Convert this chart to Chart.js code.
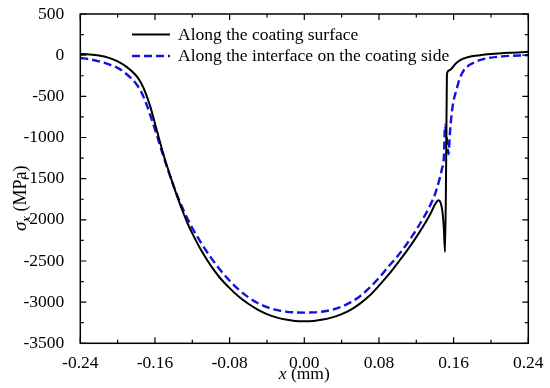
<!DOCTYPE html>
<html>
<head>
<meta charset="utf-8">
<script src="https://cdn.jsdelivr.net/npm/chart.js@4"></script>
<style>
  body { margin: 0; background: #fff; }
  #stressChart { display: block; }
</style>
</head>
<body>
<canvas id="stressChart" width="550" height="388"></canvas>
<script>
// Along the coating surface (solid black)
const surfaceX = [-0.24, -0.23, -0.22, -0.21, -0.2, -0.19, -0.18, -0.175, -0.17, -0.165, -0.16, -0.155, -0.15, -0.145, -0.14, -0.135, -0.13, -0.125, -0.12, -0.11, -0.1, -0.09, -0.08, -0.07, -0.06, -0.05, -0.04, -0.03, -0.02, -0.01, 0,
    0.01, 0.02, 0.03, 0.04, 0.05, 0.06, 0.07, 0.08, 0.09, 0.1, 0.11, 0.12, 0.13, 0.135, 0.14, 0.1437, 0.146, 0.148, 0.1495, 0.1508, 0.152, 0.1528, 0.155, 0.158, 0.162, 0.167, 0.175, 0.188, 0.2, 0.22, 0.24];
const surfaceY = [15, 8, -5, -30, -75, -145, -250, -335, -460, -625, -830, -1040, -1240, -1420, -1590, -1755, -1905, -2045, -2165, -2380, -2560, -2710, -2830, -2935, -3020, -3090, -3145, -3185, -3212, -3228, -3232,
    -3228, -3212, -3185, -3145, -3090, -3015, -2920, -2800, -2670, -2525, -2375, -2210, -2030, -1930, -1815, -1762, -1790, -1900, -2100, -2390, -1300, -230, -185, -160, -105, -60, -25, 0, 15, 30, 40];

// Along the interface on the coating side (dashed blue)
const interfaceX = [-0.24, -0.23, -0.22, -0.21, -0.2, -0.19, -0.18, -0.175, -0.17, -0.165, -0.16, -0.155, -0.15, -0.145, -0.14, -0.135, -0.13, -0.125, -0.12, -0.11, -0.1, -0.09, -0.08, -0.07, -0.06, -0.05, -0.04, -0.03, -0.02, -0.01, 0,
    0.01, 0.02, 0.03, 0.04, 0.05, 0.06, 0.07, 0.08, 0.09, 0.1, 0.11, 0.12, 0.13, 0.135, 0.14, 0.145, 0.1475, 0.1495, 0.1508, 0.1525, 0.1545, 0.156, 0.158, 0.16, 0.163, 0.166, 0.17, 0.175, 0.18, 0.188, 0.2, 0.215, 0.24];
const interfaceY = [-35, -50, -75, -110, -155, -235, -350, -440, -570, -730, -900, -1080, -1260, -1430, -1590, -1735, -1870, -1990, -2100, -2290, -2460, -2610, -2740, -2850, -2940, -3010, -3060, -3095, -3115, -3125, -3127,
    -3124, -3113, -3092, -3055, -3000, -2925, -2825, -2705, -2570, -2440, -2290, -2120, -1930, -1820, -1690, -1500, -1380, -1250, -850, -1000, -1200, -950, -700, -550, -424, -300, -200, -135, -100, -60, -30, -12, 0];

const xTickVals = [-0.24, -0.16, -0.08, 0, 0.08, 0.16, 0.24];
const xMinorVals = [-0.2, -0.12, -0.04, 0.04, 0.12, 0.2];
const yTickVals = [-3500, -3000, -2500, -2000, -1500, -1000, -500, 0, 500];
const yMinorVals = [-3250, -2750, -2250, -1750, -1250, -750, -250, 250];

const legendLabels = ['Along the coating surface', 'Along the interface on the coating side'];

const SERIF = '"Liberation Serif", "Times New Roman", serif';
const BLUE = '#1212dc';

function toPoints(xs, ys) {
    return xs.map((x, i) => ({ x: x, y: ys[i] }));
}

// frame, inside ticks, legend and axis titles
const framePlugin = {
    id: 'frame',
    afterDraw(chart) {
        const ctx = chart.ctx;
        const a = chart.chartArea;
        const xs = chart.scales.x;
        const ys = chart.scales.y;
        ctx.save();
        ctx.strokeStyle = '#000';
        ctx.lineWidth = 1.5;
        ctx.strokeRect(a.left, a.top, a.right - a.left, a.bottom - a.top);

        ctx.lineWidth = 1.2;
        ctx.beginPath();
        function xTick(v, len) {
            const px = xs.getPixelForValue(v);
            ctx.moveTo(px, a.bottom); ctx.lineTo(px, a.bottom - len);
            ctx.moveTo(px, a.top); ctx.lineTo(px, a.top + len);
        }
        function yTick(v, len) {
            const py = ys.getPixelForValue(v);
            ctx.moveTo(a.left, py); ctx.lineTo(a.left + len, py);
            ctx.moveTo(a.right, py); ctx.lineTo(a.right - len, py);
        }
        xTickVals.forEach(v => xTick(v, 6));
        xMinorVals.forEach(v => xTick(v, 3.5));
        yTickVals.forEach(v => yTick(v, 6));
        yMinorVals.forEach(v => yTick(v, 3.5));
        ctx.stroke();

        // legend
        ctx.font = '17.5px ' + SERIF;
        ctx.textBaseline = 'middle';
        ctx.fillStyle = '#000';
        ctx.lineWidth = 2;
        ctx.beginPath();
        ctx.moveTo(132, 34.5); ctx.lineTo(170, 34.5);
        ctx.stroke();
        ctx.fillText(legendLabels[0], 178, 35);
        ctx.strokeStyle = BLUE;
        ctx.lineWidth = 2.4;
        ctx.setLineDash([8, 4]);
        ctx.beginPath();
        ctx.moveTo(132, 56); ctx.lineTo(170, 56);
        ctx.stroke();
        ctx.setLineDash([]);
        ctx.fillText(legendLabels[1], 178, 56.5);

        // x axis title
        ctx.textBaseline = 'alphabetic';
        ctx.font = 'italic 17.5px ' + SERIF;
        const w1 = ctx.measureText('x').width;
        ctx.font = '17.5px ' + SERIF;
        const w2 = ctx.measureText(' (mm)').width;
        const sx = (a.left + a.right) / 2 - (w1 + w2) / 2;
        ctx.font = 'italic 17.5px ' + SERIF;
        ctx.fillText('x', sx, 379);
        ctx.font = '17.5px ' + SERIF;
        ctx.fillText(' (mm)', sx + w1, 379);

        // y axis title
        ctx.translate(26, 231);
        ctx.rotate(-Math.PI / 2);
        ctx.font = 'italic 19px ' + SERIF;
        ctx.fillText('\u03c3', 0, 0);
        const ws = ctx.measureText('\u03c3').width;
        ctx.font = 'italic 12.5px ' + SERIF;
        ctx.fillText('x', ws, 4);
        const wx = ctx.measureText('x').width;
        ctx.font = '18px ' + SERIF;
        ctx.fillText(' (MPa)', ws + wx, 0);
        ctx.restore();
    }
};

document.addEventListener('DOMContentLoaded', function() {
    const ctx = document.getElementById('stressChart').getContext('2d');

    new Chart(ctx, {
        type: 'line',
        data: {
            datasets: [{
                label: legendLabels[0],
                data: toPoints(surfaceX, surfaceY),
                borderColor: '#000',
                borderWidth: 2,
                pointRadius: 0,
                cubicInterpolationMode: 'monotone',
                fill: false
            }, {
                label: legendLabels[1],
                data: toPoints(interfaceX, interfaceY),
                borderColor: BLUE,
                borderWidth: 2.4,
                borderDash: [8, 4],
                pointRadius: 0,
                cubicInterpolationMode: 'monotone',
                fill: false
            }]
        },
        options: {
            responsive: false,
            animation: false,
            layout: {
                padding: { top: 14, right: 21.7, left: 0, bottom: 0 }
            },
            plugins: {
                legend: { display: false },
                tooltip: { enabled: false }
            },
            scales: {
                x: {
                    type: 'linear',
                    min: -0.24,
                    max: 0.24,
                    grid: { display: false },
                    border: { display: false },
                    afterBuildTicks: function(scale) {
                        scale.ticks = xTickVals.map(v => ({ value: v }));
                    },
                    afterFit: function(scale) {
                        scale.height = 44.7;
                        scale.paddingLeft = 0;
                        scale.paddingRight = 0;
                    },
                    ticks: {
                        autoSkip: false,
                        maxRotation: 0,
                        padding: 2,
                        color: '#000',
                        font: { family: SERIF, size: 17.5 },
                        callback: function(value) {
                            return Number(value).toFixed(2);
                        }
                    }
                },
                y: {
                    min: -3500,
                    max: 500,
                    grid: { display: false },
                    border: { display: false },
                    afterBuildTicks: function(scale) {
                        scale.ticks = yTickVals.map(v => ({ value: v }));
                    },
                    afterFit: function(scale) {
                        scale.width = 80.3;
                        scale.paddingTop = 0;
                        scale.paddingBottom = 0;
                    },
                    ticks: {
                        autoSkip: false,
                        padding: 8,
                        color: '#000',
                        font: { family: SERIF, size: 17.5 },
                        callback: function(value) {
                            return String(value);
                        }
                    }
                }
            }
        },
        plugins: [framePlugin]
    });
});
</script>
</body>
</html>
